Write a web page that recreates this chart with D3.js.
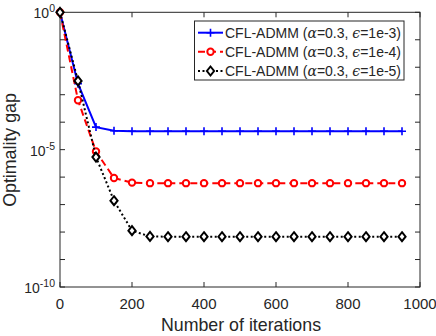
<!DOCTYPE html>
<html>
<head>
<meta charset="utf-8">
<script src="https://cdn.jsdelivr.net/npm/d3@7"></script>
<style>
  body { margin: 0; background: #fff; }
  text { font-family: "Liberation Sans", Arial, sans-serif; fill: #262626; }
</style>
</head>
<body>
<div id="GRAPH_SVG"></div>
<script>
const WIDTH = 436;
const HEIGHT = 336;
const LEFT = 60, RIGHT = 420, TOP = 12.3, BOTTOM = 287;

// iterations (markers every 50)
const iterations = [0, 50, 100, 150, 200, 250, 300, 350, 400, 450, 500,
                    550, 600, 650, 700, 750, 800, 850, 900, 950];
// log10 of the optimality gap
const gapE3 = [0, -2.6, -4.18, -4.31, -4.33, -4.33, -4.33, -4.33, -4.33, -4.33, -4.33,
               -4.33, -4.33, -4.33, -4.33, -4.33, -4.33, -4.33, -4.33, -4.33];
const gapE4 = [0, -3.2, -5.07, -6.03, -6.2, -6.22, -6.22, -6.22, -6.22, -6.22, -6.22,
               -6.22, -6.22, -6.22, -6.22, -6.22, -6.22, -6.22, -6.22, -6.22];
const gapE5 = [0, -2.5, -5.27, -6.86, -7.95, -8.16, -8.17, -8.17, -8.17, -8.17, -8.17,
               -8.17, -8.17, -8.17, -8.17, -8.17, -8.17, -8.17, -8.17, -8.17];

const xTicks = [0, 200, 400, 600, 800, 1000];
const yTickExps = [0, -1, -2, -3, -4, -5, -6, -7, -8, -9, -10];
const yLabelExps = [0, -5, -10];

const seriesNames = ["1e-3", "1e-4", "1e-5"];
const series = [
  {eps: seriesNames[0], values: gapE3, color: "#0000ff", dash: null, marker: "plus"},
  {eps: seriesNames[1], values: gapE4, color: "#ff0000", dash: "7,4", marker: "circle"},
  {eps: seriesNames[2], values: gapE5, color: "#000000", dash: "2,2.5", marker: "diamond"}
];

const svg = d3.select("#GRAPH_SVG").append("svg")
  .attr("width", WIDTH).attr("height", HEIGHT);

const xScale = d3.scaleLinear().domain([0, 1000]).range([LEFT, RIGHT]);
const yScale = d3.scaleLog().domain([1e-10, 1]).range([BOTTOM, TOP]);

// axes box
const axisColor = "#262626";
svg.append("rect")
  .attr("x", LEFT).attr("y", TOP)
  .attr("width", RIGHT - LEFT).attr("height", BOTTOM - TOP)
  .attr("fill", "none").attr("stroke", axisColor).attr("stroke-width", 1);

const TL = 5;
xTicks.forEach(t => {
  const x = xScale(t);
  svg.append("line").attr("x1", x).attr("x2", x).attr("y1", BOTTOM).attr("y2", BOTTOM - TL)
    .attr("stroke", axisColor);
  svg.append("line").attr("x1", x).attr("x2", x).attr("y1", TOP).attr("y2", TOP + TL)
    .attr("stroke", axisColor);
  svg.append("text").attr("x", x).attr("y", 309)
    .attr("text-anchor", "middle").style("font-size", "15px").text(t);
});

yTickExps.forEach(e => {
  const y = yScale(Math.pow(10, e));
  svg.append("line").attr("x1", LEFT).attr("x2", LEFT + TL).attr("y1", y).attr("y2", y)
    .attr("stroke", axisColor);
  svg.append("line").attr("x1", RIGHT).attr("x2", RIGHT - TL).attr("y1", y).attr("y2", y)
    .attr("stroke", axisColor);
});

yLabelExps.forEach(e => {
  const y = yScale(Math.pow(10, e));
  const t = svg.append("text").attr("x", LEFT - 5).attr("y", y + 6)
    .attr("text-anchor", "end").style("font-size", "14px");
  t.append("tspan").text("10");
  t.append("tspan").attr("dy", -6).style("font-size", "10.5px").text(e);
});

// axis labels
svg.append("text").attr("x", 241).attr("y", 331)
  .attr("text-anchor", "middle").style("font-size", "17.8px").text("Number of iterations");
svg.append("text")
  .attr("transform", "translate(15.5,150) rotate(-90)")
  .attr("text-anchor", "middle").style("font-size", "17.8px").text("Optimality gap");

// series
function drawMarker(g, kind, x, y, color) {
  if (kind === "plus") {
    g.append("path").attr("d", `M${x - 4},${y}H${x + 4}M${x},${y - 4}V${y + 4}`)
      .attr("stroke", color).attr("stroke-width", 1.6).attr("fill", "none");
  } else if (kind === "circle") {
    g.append("circle").attr("cx", x).attr("cy", y).attr("r", 3.2)
      .attr("fill", "#fff").attr("stroke", color).attr("stroke-width", 2);
  } else {
    g.append("path").attr("d", `M${x},${y - 4.5}L${x + 3.6},${y}L${x},${y + 4.5}L${x - 3.6},${y}Z`)
      .attr("fill", "#fff").attr("stroke", color).attr("stroke-width", 2);
  }
}

const line = d3.line()
  .x(d => xScale(d[0]))
  .y(d => yScale(Math.pow(10, d[1])));

series.forEach(s => {
  const pts = iterations.map((it, i) => [it, s.values[i]]);
  svg.append("path").datum(pts)
    .attr("d", line).attr("fill", "none")
    .attr("stroke", s.color).attr("stroke-width", 2)
    .attr("stroke-dasharray", s.dash);
  const g = svg.append("g");
  pts.forEach(p => drawMarker(g, s.marker, xScale(p[0]), yScale(Math.pow(10, p[1])), s.color));
});

// legend
const LX = 194.5, LY = 21, LW = 209.5, LH = 59;
svg.append("rect").attr("x", LX).attr("y", LY).attr("width", LW).attr("height", LH)
  .attr("fill", "#fff").attr("stroke", axisColor).attr("stroke-width", 1);
const rowY = [32.7, 51.7, 71];
series.forEach((s, i) => {
  const y = rowY[i];
  svg.append("line").attr("x1", 198).attr("x2", 223).attr("y1", y).attr("y2", y)
    .attr("stroke", s.color).attr("stroke-width", 2).attr("stroke-dasharray", s.dash);
  drawMarker(svg, s.marker, 210.5, y, s.color);
  const t = svg.append("text").attr("x", 225).attr("y", y + 5).style("font-size", "14px");
  t.append("tspan").text("CFL-ADMM (");
  t.append("tspan").style("font-family", "'DejaVu Serif', serif").style("font-style", "italic").text("α");
  t.append("tspan").text("=0.3, ");
  t.append("tspan").style("font-family", "'DejaVu Serif', serif").style("font-style", "italic").text("ϵ");
  t.append("tspan").text("=" + s.eps + ")");
});
</script>
</body>
</html>
